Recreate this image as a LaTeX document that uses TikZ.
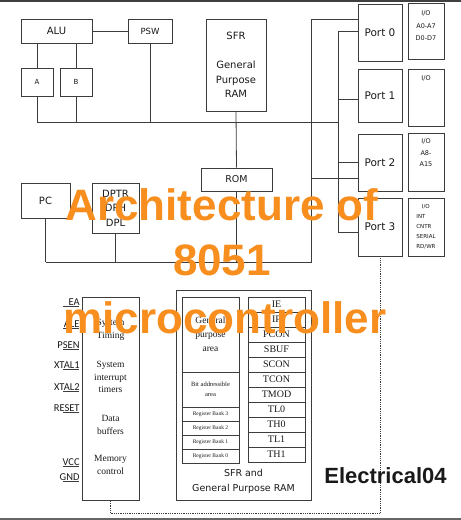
\documentclass[tikz,border=0pt]{standalone}
\usepackage{fontspec}
\setmainfont{DejaVu Sans}
\newfontfamily\serifface{Liberation Serif}
\newfontfamily\pinface{Carlito}
\newfontfamily\titleface{Liberation Sans}
\usetikzlibrary{positioning}
\definecolor{wire}{RGB}{60,60,60}
\definecolor{ink}{RGB}{25,25,25}
\definecolor{banner}{RGB}{247,142,30}

\begin{document}
\begin{tikzpicture}[x=1pt,y=-1pt,line width=0.8pt,color=wire,
    every node/.append style={text=ink},
    blk/.style={draw=wire,inner sep=0pt,align=center},
    portbox/.style={blk,minimum width=44pt,font=\fontsize{10.5}{12}\selectfont},
    iobox/.style={blk,minimum width=36pt},
    iotext/.style={inner sep=0pt,align=center,font=\fontsize{6.5}{12.5}\selectfont},
    note/.style={inner sep=0pt,align=center,font=\serifface\fontsize{9.5}{13}\selectfont},
    regrow/.style={blk,minimum width=57pt,minimum height=15pt,font=\serifface\fontsize{10}{10}\selectfont},
    bankrow/.style={blk,minimum width=57pt,minimum height=14pt,font=\serifface\fontsize{5.5}{6}\selectfont},
    pin/.style={anchor=base east,inner sep=0pt,font=\pinface\fontsize{10.5}{10.5}\selectfont},
    title/.style={anchor=base,inner sep=0pt,text=banner,font=\titleface\bfseries\fontsize{44}{44}\selectfont}]
    \useasboundingbox (0,0) rectangle (461,520);
    \draw[line width=1.5pt,black!75] (0,0.75) -- (461,0.75);
    \draw[line width=1.5pt,black!60] (0,519) -- (461,519);

    % ALU, registers and the data bus
    \node[blk,minimum width=71pt,minimum height=24pt,font=\fontsize{10}{12}\selectfont] (alu) at (56.5,31) {ALU};
    \node[blk,minimum width=44pt,minimum height=24pt,font=\fontsize{8.5}{10}\selectfont] (psw) at (150,31) {PSW};
    \node[blk,minimum width=32pt,minimum height=28pt,font=\fontsize{7}{8}\selectfont] (acc) at (37,82) {A};
    \node[blk,minimum width=32pt,minimum height=28pt,font=\fontsize{7}{8}\selectfont] (breg) at (76,82) {B};
    \node[blk,minimum width=60pt,minimum height=92pt,font=\fontsize{10}{14.5}\selectfont] (sfr) at (236,65) {SFR\\[14.5pt]General\\Purpose\\RAM};
    \node[blk,minimum width=71pt,minimum height=23pt,font=\fontsize{9.5}{11}\selectfont] (rom) at (236.5,179.5) {ROM};
    \node[blk,minimum width=49pt,minimum height=35pt,font=\fontsize{10}{12}\selectfont] (pc) at (45.5,200.5) {PC};
    \node[blk,minimum width=47pt,minimum height=50pt,font=\fontsize{10}{14.5}\selectfont] (dptr) at (115.5,208) {DPTR\\DPH\\DPL};

    \coordinate (datW) at (37,122);
    \coordinate (datE) at (338,122);
    \coordinate (ctlW) at (45.5,262);
    \coordinate (ctlE) at (311,262);
    \coordinate (trkA) at (311,19);
    \coordinate (trkB) at (338,31);

    \draw (alu) -- (psw);
    \draw (acc.north |- alu.south) -- (acc.north);
    \draw (breg.north |- alu.south) -- (breg.north);
    \draw (acc.south) -- (acc.south |- datW);
    \draw (breg.south) -- (breg.south |- datW);
    \draw (psw.south) -- (psw.south |- datW);
    \draw (datW) -- (datE);
    \draw (sfr.south) -- (rom.north);
    \draw (rom.south) -- (rom.south |- ctlW);
    \draw (pc.south) -- (ctlW);
    \draw (dptr.south) -- (dptr.south |- ctlW);

    % ports
    \foreach \n/\y/\h in {0/32.5/57pt,1/95.5/53pt,2/162.5/57pt,3/227/58pt}
      \node[portbox,minimum height=\h] (port\n) at (380,\y) {Port \n};
    \foreach \n/\y/\h in {0/31/56pt,1/97.5/57pt,2/162/58pt,3/227/58pt}
      \node[iobox,minimum height=\h] (io\n) at (426,\y) {};
    \node[iotext,below=8pt of io0.north] (io0txt) {I/O\\A0-A7\\D0-D7};
    \node[iotext,below=7pt of io1.north] (io1txt) {I/O};
    \node[iotext,below=6pt of io2.north,font=\fontsize{6.5}{11.5}\selectfont] (io2txt) {I/O\\A8-\\A15};
    \node[iotext,align=left,font=\fontsize{5.5}{10}\selectfont] (io3txt) at (io3) {\hspace*{5.5pt}I/O\\INT\\CNTR\\SERIAL\\RD/WR};

    \draw (ctlW) -- (ctlE) -- (trkA) -- (trkA -| port0.west);
    \draw (trkB -| port0.west) -- (trkB) |- ([yshift=-5pt]port3.west);
    \draw ([yshift=-3.5pt]port1.west) -- ([yshift=-3.5pt]port1.west -| trkB);
    \draw (port2.west) -- (port2.west -| trkB);
    \draw ([yshift=-16pt]port2.west) -- ([yshift=-16pt]port2.west -| trkA);

    % control block and pins
    \node[blk,minimum width=57pt,minimum height=203pt] (ctrl) at (110.5,398.5) {};
    \node[note] (timing) at (110.5,330) {System\\Timing};
    \node[note,font=\serifface\fontsize{9.5}{12.5}\selectfont] (intr) at (110.5,377) {System\\interrupt\\timers};
    \node[note] (buffers) at (110.5,424.5) {Data\\buffers};
    \node[note] (memctl) at (110.5,465) {Memory\\control};
    \foreach \lbl/\y in {EA/305,ALE/327,PSEN/348,XTAL1/368,XTAL2/390,RESET/411,VCC/465,GND/480}{
      \node[pin] (pin\lbl) at (80,\y) {\lbl};
      \draw ([shift={(-17pt,-1.2pt)}]pin\lbl.base east) -- ([shift={(-1pt,-1.2pt)}]pin\lbl.base east);
    }

    % internal RAM and SFRs
    \node[blk,minimum width=135pt,minimum height=210pt] (ram) at (243.5,395) {};
    \node[blk,minimum width=57pt,minimum height=75pt,font=\serifface\fontsize{9.5}{14}\selectfont] (gparea) at (210.5,334.5) {General\\purpose\\area};
    \node[blk,minimum width=57pt,minimum height=35pt,font=\serifface\fontsize{6.5}{10}\selectfont] (bitarea) at (210.5,389.5) {Bit addressible\\area};
    \foreach \b [count=\i from 0] in {3,2,1,0}
      \node[bankrow] (bank\b) at (210.5,414+14*\i) {Register Bank \b};
    \foreach \reg [count=\i from 0] in {IE,IP,PCON,SBUF,SCON,TCON,TMOD,TL0,TH0,TL1,TH1}
      \node[regrow] (sfr\reg) at (276.5,304.5+15*\i) {\reg};
    \node[inner sep=0pt,align=center,font=\fontsize{9.5}{15}\selectfont] (ramcap) at (243.5,481.5) {SFR and\\General Purpose RAM};

    \draw[densely dotted] (port3.south) -- ++(0,257) -| (ctrl.south);

    % overlay texts
    \node[title] (ttl1) at (222,220) {Architecture of};
    \node[title] (ttl2) at (222,275) {8051};
    \node[title] (ttl3) at (225,333) {microcontroller};
    \node[anchor=base,inner sep=0pt,font=\titleface\bfseries\fontsize{22}{22}\selectfont] (brand) at (385.5,483) {Electrical04};
\end{tikzpicture}
\end{document}
